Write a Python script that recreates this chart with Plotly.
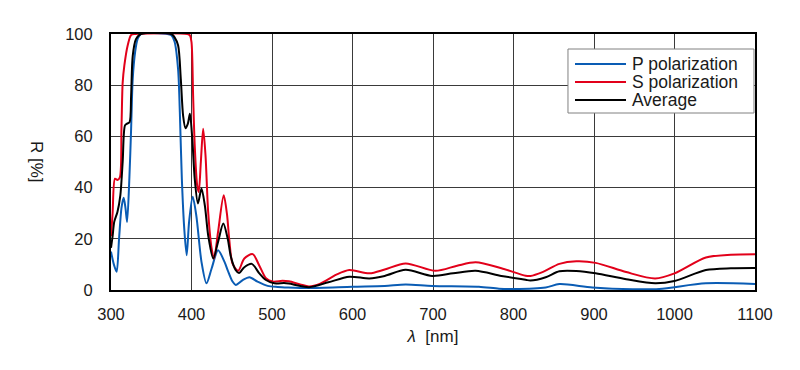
import plotly.graph_objects as go

# P polarization
wl_p = [300, 302, 304, 307, 310, 313, 315.7, 318, 320, 322.8, 325, 327, 330, 333, 337, 370, 375, 379,
        383.4, 385.5, 388, 391, 394, 397, 401.5, 406, 412.4, 418.6, 425, 433, 441, 445, 451, 455,
        463.6, 472, 482, 494.6, 507, 520, 546, 600, 640, 666, 699, 757, 782, 800, 840, 857, 898,
        948, 981, 1039, 1100]
r_p = [15, 12, 9.5, 7.1, 20, 32, 36, 32, 26.6, 43.5, 63, 82.5, 93, 98, 100, 100, 99.5, 97,
       86, 69.5, 43.5, 24, 13.6, 26.6, 36.4, 29, 11, 2.6, 8.4, 15.5, 11, 7.7, 3.3, 2.0,
       3.9, 5.0, 3.3, 1.6, 1.2, 1.0, 0.8, 1.3, 1.6, 2.1, 1.6, 1.3, 0.5, 0.4, 1.0, 2.3, 1.0,
       0.3, 0.4, 2.6, 2.3]

# S polarization
wl_s = [300, 302, 305, 308, 311, 313, 314.5, 316.6, 320.7, 325, 330, 395, 398, 400, 402, 404, 407,
        409, 411.6, 414.5, 417.4, 420.7, 425, 428, 433, 440, 444, 447, 451, 458, 465.6, 476, 484,
        492.5, 501, 513, 521, 535, 546, 560, 580, 596, 621, 640, 666, 703, 730, 753, 785, 815,
        821, 836, 857, 878, 902, 940, 976, 1000, 1039, 1070, 1100]
r_s = [21, 30, 43.5, 43, 44, 63, 81, 87.7, 95.5, 99.6, 100, 100, 99.5, 96.8, 76, 56.5, 41,
       38.3, 50, 63, 52.6, 30.5, 16.2, 12.3, 22.7, 37, 29.8, 19.4, 10.3, 7.5, 12.3, 14, 9.7,
       4.6, 3.3, 3.6, 3.4, 2.2, 1.4, 2.5, 6, 7.8, 6.5, 8, 10.4, 7.5, 9.5, 10.8, 8.5, 5.6,
       5.5, 7, 10.2, 11.2, 10.6, 7, 4.5, 6.5, 12.7, 13.8, 14]

# Average
wl_a = [300, 302, 304, 308, 311.6, 314.5, 317.4, 320, 323, 325, 327, 331, 337, 375, 379, 383.4,
        386.7, 389.6, 392.5, 395.5, 398, 401, 404, 408, 412.4, 416.6, 420.7, 427, 433, 439.5, 445,
        449, 455, 459, 465.6, 475, 484, 492.5, 503, 515, 521, 546, 570, 596, 621, 640, 666, 699,
        725, 753, 785, 815, 821, 840, 857, 878, 902, 940, 976, 1000, 1039, 1070, 1100]
r_a = [16.5, 21, 26.6, 30.5, 37, 50, 64.3, 65, 65.5, 76, 91.5, 98, 100, 100, 98.7, 95.5,
       82.5, 68, 63.2, 65, 68.8, 59, 43.5, 33.8, 39.6, 33, 21.4, 12.3, 18.8, 26, 20,
       12.9, 7.7, 6.6, 8.9, 10.2, 6.6, 3.9, 2.6, 2.7, 2.5, 1.1, 3, 5.2, 4.5, 5.5, 7.9, 5.5,
       6.5, 7.5, 5.5, 4.0, 3.7, 5, 7.3, 7.4, 6.5, 4.2, 2.6, 3.5, 7.8, 8.5, 8.6]

x_ticks = [300, 400, 500, 600, 700, 800, 900, 1000, 1100]
y_ticks = [0, 20, 40, 60, 80, 100]

series_names = ["P polarization", "S polarization", "Average"]
series_colors = ["#0a5cb4", "#e2001a", "#000000"]

FONT = "Liberation Sans, Arial, sans-serif"
TXT = "#1a1a1a"

fig = go.Figure()
for wl, r, name, col in zip([wl_p, wl_s, wl_a], [r_p, r_s, r_a], series_names, series_colors):
    fig.add_trace(go.Scatter(x=wl, y=r, mode="lines", name=name, showlegend=False,
                             line=dict(color=col, width=2, shape="spline", smoothing=0.8)))

# legend drawn in plot-area (paper) coordinates
shapes = [dict(type="rect", xref="paper", yref="paper", x0=0.7096, x1=0.9984, y0=0.6914, y1=0.9414,
               fillcolor="white", line=dict(color="#808080", width=1), layer="above")]
annotations = []
row_y = [0.8828, 0.8125, 0.7422]
for name, col, yy in zip(series_names, series_colors, row_y):
    shapes.append(dict(type="line", xref="paper", yref="paper", x0=0.7205, x1=0.7997, y0=yy, y1=yy,
                       line=dict(color=col, width=2), layer="above"))
    annotations.append(dict(text=name, xref="paper", yref="paper", x=0.8075, y=yy,
                            xanchor="left", yanchor="middle", showarrow=False, borderpad=0,
                            font=dict(family=FONT, size=17.5, color=TXT)))

annotations.append(dict(text="R [%]", xref="paper", yref="paper", x=-0.1157, y=0.498,
                        showarrow=False, textangle=90, xanchor="center", yanchor="middle",
                        font=dict(family=FONT, size=17, color=TXT)))

fig.update_layout(
    width=792, height=362,
    margin=dict(l=103, r=45, t=26, b=80),
    paper_bgcolor="white", plot_bgcolor="white",
    font=dict(family=FONT, size=16.5, color=TXT),
    showlegend=False,
    xaxis=dict(range=[300, 1100], tickvals=x_ticks, ticktext=[str(v) for v in x_ticks],
               showgrid=True, gridcolor="#3a3a3a", gridwidth=1,
               showline=True, linecolor="black", linewidth=2, mirror=True,
               ticks="", ticklabelstandoff=8, zeroline=False,
               title=dict(text="<i>λ</i>  [nm]", font=dict(family=FONT, size=17, color=TXT), standoff=8)),
    yaxis=dict(range=[0, 100], tickvals=y_ticks, ticktext=[str(v) for v in y_ticks],
               showgrid=True, gridcolor="#3a3a3a", gridwidth=1,
               showline=True, linecolor="black", linewidth=2, mirror=True,
               ticks="", ticklabelstandoff=13, zeroline=False),
    shapes=shapes,
    annotations=annotations,
)

fig.write_html("out.html")
